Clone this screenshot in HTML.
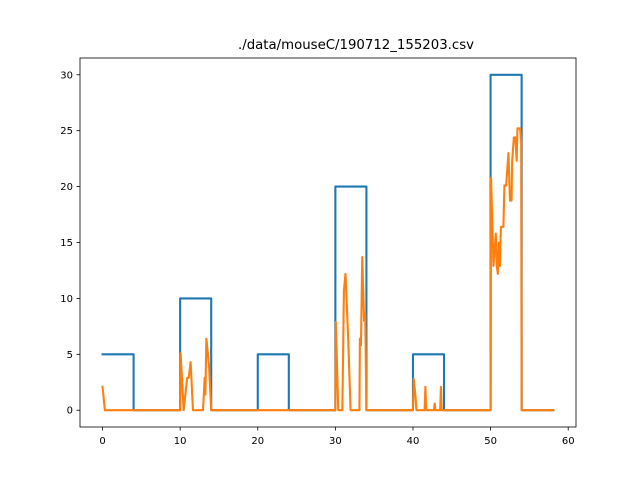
<!DOCTYPE html>
<html><head><meta charset="utf-8"><style>body{margin:0;background:#fff}svg{display:block;font-family:"DejaVu Sans","Liberation Sans",sans-serif}</style></head>
<body>
<svg id="chart" width="640" height="480" viewBox="0 0 640 480" xmlns="http://www.w3.org/2000/svg">
<rect width="640" height="480" fill="#fff"/>
<text x="356" y="49" text-anchor="middle" font-size="13.3">./data/mouseC/190712_155203.csv</text>
<g id="plot"></g>
</svg>
<script>
const stimX = [0,4,4,10,10,14,14,20,20,24,24,30,30,34,34,40,40,44,44,50,50,54,54,58.1];
const stimY = [5,5,0,0,10,10,0,0,5,5,0,0,20,20,0,0,5,5,0,0,30,30,0,0];
const respX = [0,0.3,10,10.06,10.45,10.9,11.1,11.35,11.65,12.95,13.16,13.25,13.38,13.72,14.0,30,30.06,30.37,30.9,31.1,31.3,31.4,31.65,31.96,33.1,33.16,33.3,33.46,33.7,33.85,34.0,40,40.1,40.3,40.45,41.5,41.6,41.7,42.7,42.8,42.9,43.5,43.6,43.7,50,50.06,50.37,50.67,50.8,50.93,51.06,51.2,51.33,51.65,51.78,52.0,52.3,52.5,52.7,52.78,53.0,53.2,53.36,53.46,53.8,53.94,54.0,58.1];
const respY = [2.1,0,0,5.1,0,2.9,2.9,4.3,0,0,2.9,1.4,6.4,4.0,0,0,7.9,0,0,10.7,12.2,10.7,6.4,0,0,6.4,5.8,13.7,8.0,8.6,0,0,2.8,1.4,0,0,2.1,0,0,0.6,0,0,2.1,0,0,20.8,12.9,15.8,12.9,12.2,15.0,12.9,16.4,16.4,20.1,20.1,23.0,18.75,18.75,22.3,24.4,24.4,22.3,25.2,25.2,24.0,0,0];
const xTicks = [0,10,20,30,40,50,60];
const yTicks = [0,5,10,15,20,25,30];
const L=80,R=576,T=58,B=427, xMin=-2.905,xMax=61.005,yMin=-1.5,yMax=31.5;
const sx=v=>L+(v-xMin)/(xMax-xMin)*(R-L);
const sy=v=>B-(v-yMin)/(yMax-yMin)*(B-T);
const NS="http://www.w3.org/2000/svg", g=document.getElementById('plot');
function mk(t,a){const e=document.createElementNS(NS,t);for(const k in a)e.setAttribute(k,a[k]);g.appendChild(e);return e;}
function line(xs,ys,color,name){const d=xs.map((x,i)=>(i?'L':'M')+sx(x).toFixed(2)+' '+sy(ys[i]).toFixed(2)).join(' ');
 const p=mk('path',{d:d,fill:'none',stroke:color,'stroke-width':2.1,'stroke-linejoin':'round','stroke-linecap':'square'});
 
 }
line(stimX,stimY,'#1f77b4','stimulus-line');
line(respX,respY,'#ff7f0e','response-line');
const fr=mk('rect',{x:L,y:T,width:R-L,height:B-T,fill:'none',stroke:'#000','stroke-width':0.8});


xTicks.forEach(v=>{const x=sx(v);
 const t=mk('line',{x1:x,x2:x,y1:B,y2:B+3.5,stroke:'#000','stroke-width':0.8});
 
 
 const l=mk('text',{x:x,y:B+17,'text-anchor':'middle','font-size':10});l.textContent=v;
 
 });
yTicks.forEach(v=>{const y=sy(v);
 const t=mk('line',{x1:L-3.5,x2:L,y1:y,y2:y,stroke:'#000','stroke-width':0.8});
 
 
 const l=mk('text',{x:L-7,y:y+3.5,'text-anchor':'end','font-size':10});l.textContent=v;
 
 });
</script>
</body></html>
